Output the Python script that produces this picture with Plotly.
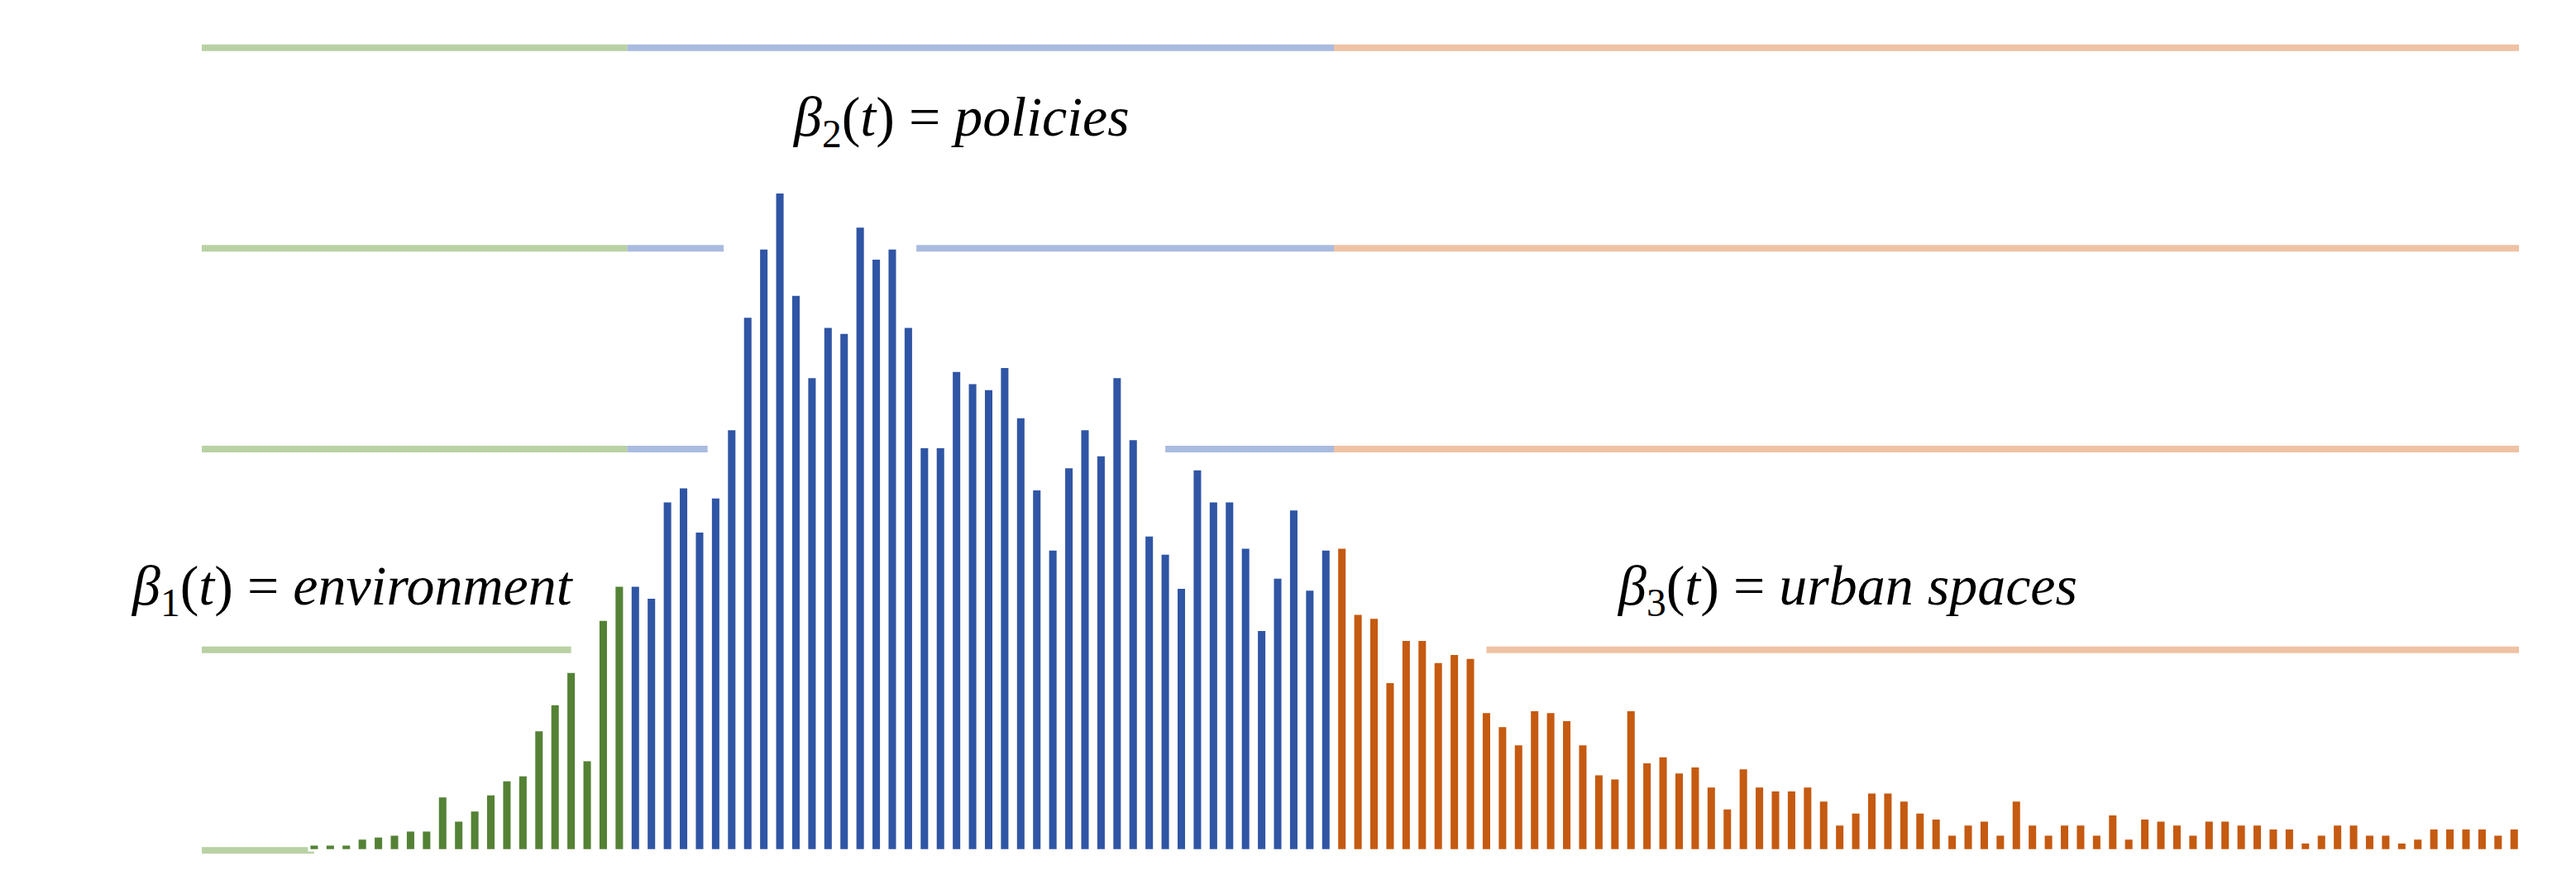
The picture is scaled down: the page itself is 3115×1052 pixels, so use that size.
import plotly.graph_objects as go

env_vals = [0.03,0.03,0.03,0.06,0.07,0.08,0.1,0.1,0.27,0.15,0.2,0.28,0.35,0.375,0.6,0.73,0.89,0.45,1.15,1.32]
pol_vals = [1.32,1.26,1.74,1.81,1.59,1.76,2.1,2.66,3.0,3.28,2.77,2.36,2.61,2.58,3.11,2.95,3.0,2.61,2.01,2.01,
            2.39,2.33,2.3,2.41,2.16,1.8,1.5,1.91,2.1,1.97,2.36,2.05,1.57,1.48,1.31,1.9,1.74,1.74,1.51,1.1,
            1.36,1.7,1.3,1.5]
urb_vals = [1.51,1.18,1.16,0.84,1.05,1.05,0.94,0.98,0.96,0.69,0.62,0.53,0.70,0.69,0.65,0.53,0.38,0.36,0.70,0.44,
            0.47,0.39,0.42,0.32,0.21,0.41,0.32,0.30,0.30,0.32,0.25,0.13,0.19,0.29,0.29,0.25,0.19,0.16,0.08,0.13,
            0.15,0.08,0.25,0.13,0.08,0.13,0.13,0.08,0.18,0.06,0.16,0.15,0.13,0.08,0.15,0.15,0.13,0.13,0.11,0.11,
            0.04,0.08,0.13,0.13,0.08,0.08,0.04,0.06,0.11,0.11,0.11,0.11,0.08,0.11,0.06]

labels = ["<i>β</i><sub>1</sub>(<i>t</i>) = <i>environment</i>",
          "<i>β</i><sub>2</sub>(<i>t</i>) = <i>policies</i>",
          "<i>β</i><sub>3</sub>(<i>t</i>) = <i>urban spaces</i>"]

# grid segments: (level, x0, x1, group)
segments = [
    (4, -7, 19.5, 0), (4, 19.5, 63.5, 1), (4, 63.5, 137.3, 2),
    (3, -7, 19.5, 0), (3, 19.5, 25.5, 1), (3, 37.5, 63.5, 1), (3, 63.5, 137.3, 2),
    (2, -7, 19.5, 0), (2, 19.5, 24.5, 1), (2, 53, 63.5, 1), (2, 63.5, 137.3, 2),
    (1, -7, 16, 0), (1, 73, 137.3, 2),
    (0, -7, 0, 0),
]

bar_cols = ["#548235", "#2f55a4", "#c55a11"]
line_cols = ["#b9d1a3", "#aabbe0", "#efc2a4"]

fig = go.Figure()
for lvl, x0, x1, g in segments:
    fig.add_shape(type="line", x0=x0, x1=x1, y0=lvl, y1=lvl, layer="below",
                  line=dict(color=line_cols[g], width=8))

start = 0
for vals, col in zip([env_vals, pol_vals, urb_vals], bar_cols):
    xs = list(range(start, start + len(vals)))
    fig.add_trace(go.Bar(x=xs, y=vals, marker=dict(color=col, line=dict(color="white", width=3)),
                         width=0.62))
    start += len(vals)

font = dict(family="Liberation Serif", size=68, color="black")
fig.add_annotation(x=16.3, y=1.3, text=labels[0], showarrow=False, xanchor="right", font=font)
fig.add_annotation(x=40.3, y=3.64, text=labels[1], showarrow=False, xanchor="center", font=font)
fig.add_annotation(x=81, y=1.3, text=labels[2], showarrow=False, xanchor="left", font=font)

fig.update_layout(width=3115, height=1052, showlegend=False, plot_bgcolor="white", paper_bgcolor="white",
                  margin=dict(l=236, r=75, t=40, b=22), bargap=0.4,
                  xaxis=dict(range=[-7, 137.4], visible=False),
                  yaxis=dict(range=[-0.04, 4.04], visible=False))
fig.write_html("out.html")
